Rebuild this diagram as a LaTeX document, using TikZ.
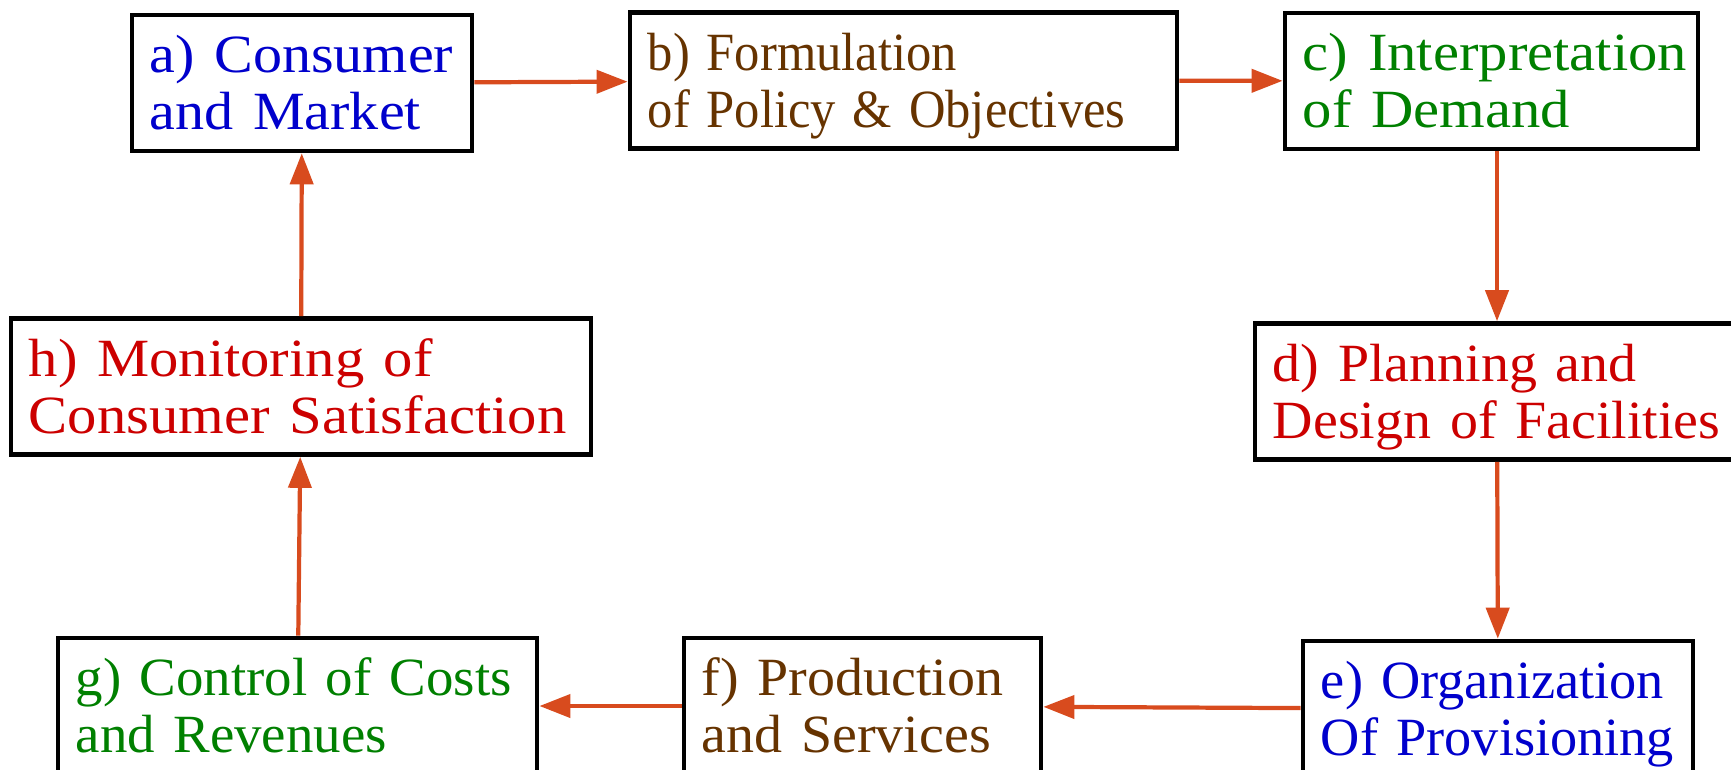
\documentclass[tikz,border=0pt]{standalone}
\usepackage{fontspec}
\setmainfont{Liberation Serif}
\usetikzlibrary{arrows.meta}
\definecolor{flowred}{RGB}{216,75,30}
\definecolor{textblue}{RGB}{0,0,204}
\definecolor{textbrown}{RGB}{102,51,0}
\definecolor{textgreen}{RGB}{0,128,0}
\definecolor{textred}{RGB}{204,0,0}
\newcommand{\stagetext}[3]{\raisebox{0pt}[\dimexpr\height+4pt\relax][\depth]{%
  \scalebox{#1}[1]{\begin{tabular}{@{}l@{}}#2\\#3\end{tabular}}}}

\begin{document}
\begin{tikzpicture}[x=0.01cm,y=-0.01cm,
        stage/.style={draw,line width=1.3pt,fill=white,minimum height=1.36cm,inner xsep=0.18cm,inner ysep=0pt,
          text width=#1,align=left,font=\fontsize{15.3}{16.2}\selectfont},
        flow/.style={draw=flowred,line width=1.2pt,-{Triangle[length=0.31cm,width=0.23cm]}}]
        \path[use as bounding box,clip] (0,0) rectangle (1731,769);
        \node[stage=3.04cm,text=textblue] (a) at (302,83) {\stagetext{1.08}{a) Consumer}{and Market}};
        \node[stage=5.11cm,text=textbrown] (b) at (903.5,80.5) {\stagetext{0.94}{b) Formulation}{of Policy \& Objectives}};
        \node[stage=3.77cm,text=textgreen] (c) at (1491.5,81) {\stagetext{1.09}{c) Interpretation}{of Demand}};
        \node[stage=4.48cm,text=textred] (d) at (1497,391.5) {\stagetext{1.04}{d) Planning and}{Design of Facilities}};
        \node[stage=3.54cm,text=textblue] (e) at (1498,709) {\stagetext{1.01}{e) Organization}{Of Provisioning}};
        \node[stage=3.21cm,text=textbrown] (f) at (862.5,706) {\stagetext{1.04}{f) Production}{and Services}};
        \node[stage=4.43cm,text=textgreen] (g) at (297.5,706) {\stagetext{1.02}{g) Control of Costs}{and Revenues}};
        \node[stage=5.44cm,text=textred] (h) at (301,386.5) {\stagetext{1.09}{h) Monitoring of}{Consumer Satisfaction}};
        \draw[flow] (a) -- (b);
        \draw[flow] (b) -- (c);
        \draw[flow] (c.south -| d.north) -- (d.north);
        \draw[flow] (d) -- (e);
        \draw[flow] (e) -- (f);
        \draw[flow] (f) -- (g);
        \draw[flow] (g) -- (h);
        \draw[flow] (h) -- (a);
      \end{tikzpicture}
\end{document}
